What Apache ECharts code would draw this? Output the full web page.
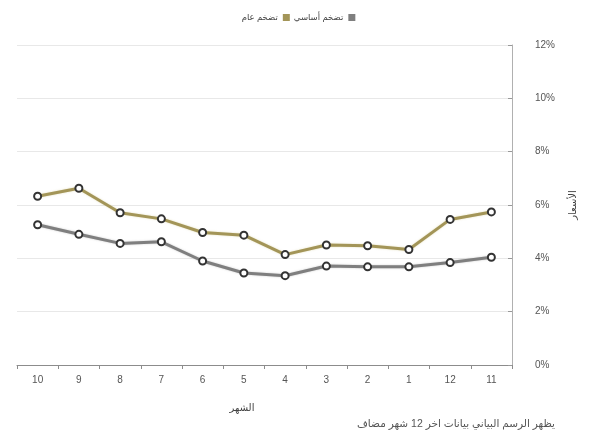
<!DOCTYPE html>
<html>
<head>
<meta charset="utf-8">
<script src="https://cdn.jsdelivr.net/npm/echarts@6/dist/echarts.min.js"></script>
<style>
  html, body { margin: 0; padding: 0; background: #fff; }
  #chart { width: 597px; height: 442px; }
</style>
</head>
<body>
<div id="chart"></div>
<script>
// Months, most recent on the right
const months = ['10', '9', '8', '7', '6', '5', '4', '3', '2', '1', '12', '11'];
// General inflation (%)
const generalInflation = [6.33, 6.63, 5.71, 5.48, 4.97, 4.87, 4.14, 4.5, 4.47, 4.33, 5.46, 5.74];
// Core inflation (%)
const coreInflation = [5.26, 4.9, 4.56, 4.62, 3.9, 3.45, 3.35, 3.71, 3.68, 3.68, 3.84, 4.04];
// Percent axis ticks
const yTicks = [0, 2, 4, 6, 8, 10, 12];

const seriesNames = ['تضخم عام', 'تضخم أساسي'];
const seriesColors = ['#a39558', '#7f7f7f'];
const fontFamily = 'Liberation Sans, DejaVu Sans, sans-serif';

const chart = echarts.init(document.getElementById('chart'), null, { renderer: 'canvas' });

const marker = {
  color: '#ffffff',
  borderColor: '#333333',
  borderWidth: 2
};

chart.setOption({
  animation: false,
  backgroundColor: '#ffffff',
  textStyle: { fontFamily: fontFamily },
  legend: {
    data: seriesNames.map((name, i) => ({
      name: name,
      itemStyle: { color: seriesColors[i], borderColor: seriesColors[i], borderWidth: 0 }
    })),
    left: 'center',
    top: 8,
    align: 'right',
    itemWidth: 7,
    itemHeight: 7,
    itemGap: 4,
    icon: 'rect',
    textStyle: { fontSize: 8.5, color: '#444', fontFamily: fontFamily }
  },
  grid: { left: 17, right: 85, top: 45, bottom: 77 },
  xAxis: {
    type: 'category',
    data: months,
    boundaryGap: true,
    name: 'الشهر',
    nameLocation: 'middle',
    nameGap: 38,
    nameTextStyle: { fontSize: 10, color: '#444', padding: [0, 45, 0, 0] },
    axisLine: { lineStyle: { color: '#8c8c8c', width: 1 } },
    axisTick: { show: true, alignWithLabel: false, length: 4, lineStyle: { color: '#8c8c8c' } },
    axisLabel: { fontSize: 10, color: '#555', margin: 10 },
    splitLine: { show: false }
  },
  yAxis: {
    type: 'value',
    position: 'right',
    min: yTicks[0],
    max: yTicks[yTicks.length - 1],
    interval: 2,
    name: 'الأسعار',
    nameLocation: 'middle',
    nameRotate: 90,
    nameGap: 56,
    nameTextStyle: { fontSize: 10, color: '#444' },
    axisLine: { show: true, lineStyle: { color: '#b0b0b0', width: 1 } },
    axisTick: { show: true, inside: true, length: 4, lineStyle: { color: '#999' } },
    axisLabel: { fontSize: 10, color: '#555', margin: 23, formatter: '{value}%' },
    splitLine: { show: true, lineStyle: { color: '#e8e8e8', width: 1 } }
  },
  series: [
    {
      name: seriesNames[0],
      type: 'line',
      data: generalInflation,
      color: seriesColors[0],
      symbol: 'circle',
      symbolSize: 7,
      lineStyle: { color: seriesColors[0], width: 3, shadowColor: 'rgba(200,190,120,0.5)', shadowBlur: 2 },
      itemStyle: marker,
      z: 3
    },
    {
      name: seriesNames[1],
      type: 'line',
      data: coreInflation,
      color: seriesColors[1],
      symbol: 'circle',
      symbolSize: 7,
      lineStyle: { color: seriesColors[1], width: 3, shadowColor: 'rgba(150,150,150,0.5)', shadowBlur: 2 },
      itemStyle: marker,
      z: 2
    }
  ],
  graphic: [
    {
      type: 'text',
      right: 42,
      top: 419,
      style: {
        text: 'يظهر الرسم البياني بيانات اخر 12 شهر مضاف',
        fill: '#555',
        fontSize: 10.5,
        fontFamily: fontFamily
      }
    }
  ]
});
</script>
</body>
</html>
